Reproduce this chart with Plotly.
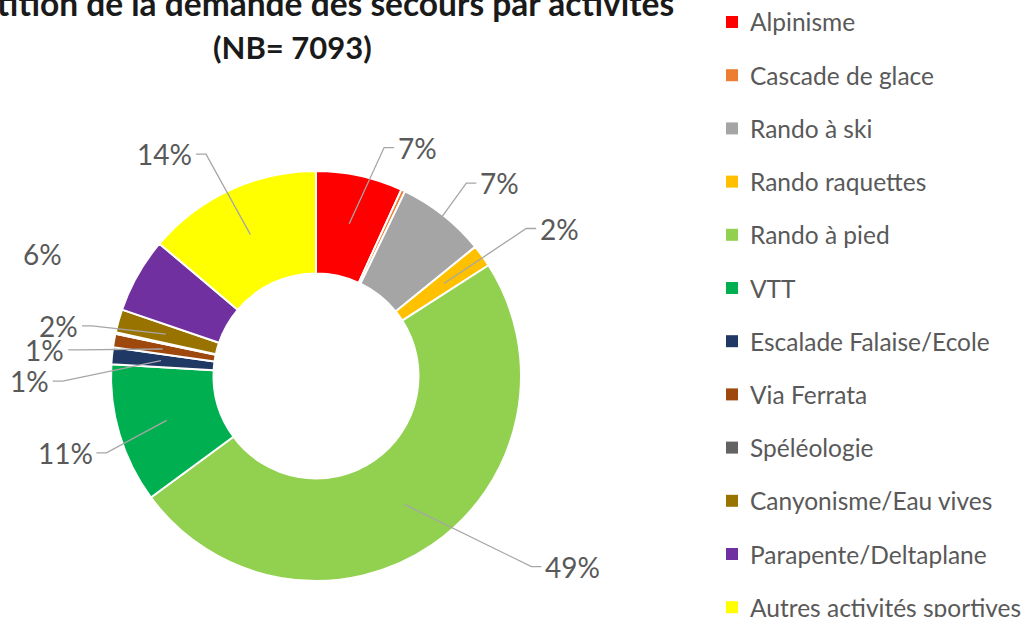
import math
import plotly.graph_objects as go

# ---------------- data ----------------
categories = [
    "Alpinisme", "Cascade de glace", "Rando à ski", "Rando raquettes",
    "Rando à pied", "VTT", "Escalade Falaise/Ecole", "Via Ferrata",
    "Spéléologie", "Canyonisme/Eau vives", "Parapente/Deltaplane",
    "Autres activités sportives",
]
counts = [485, 22, 497, 125, 3475, 780, 95, 75, 8, 130, 420, 981]
total_nb = 7093
title_line1 = "Répartition de la demande des secours par activités"
title_line2 = f"(NB= {total_nb})"

# ---------------- style ----------------
colors = ["#FF0000", "#ED7D31", "#A5A5A5", "#FFC000", "#92D050", "#00B050",
          "#203864", "#9E480E", "#636363", "#997300", "#7030A0", "#FFFF00"]

W, H = 1034, 617
CX, CY, R = 316, 376, 205
HOLE = 0.5
LABEL_FONT = 28
TEXT_COLOR = "#595959"
LINE_COLOR = "#A6A6A6"

# label placement: category -> (radius factor, angle offset deg, anchor radius factor, draw line)
placement = {
    "Alpinisme": (1.22, 11.7, 0.76, True),
    "Rando à ski": (1.30, 5.3, 0.99, True),
    "Rando raquettes": (1.39, 4.7, 0.77, True),
    "Rando à pied": (1.56, -18.9, 0.76, True),
    "VTT": (1.28, -0.5, 0.76, True),
    "Escalade Falaise/Ecole": (1.40, -6.7, 0.76, True),
    "Via Ferrata": (1.33, -4.5, 0.76, True),
    "Canyonisme/Eau vives": (1.28, -4.6, 0.76, True),
    "Parapente/Deltaplane": (1.46, -5.5, 0.76, False),
    "Autres activités sportives": (1.31, -9.4, 0.76, True),
}


def px(x):
    return x / W


def py(y):
    return 1 - y / H


def polar(r, ang):
    a = math.radians(ang)
    return CX + r * math.sin(a), CY - r * math.cos(a)


fig = go.Figure(go.Pie(
    labels=categories, values=counts, sort=False, direction="clockwise",
    rotation=0, hole=HOLE, textinfo="none", hoverinfo="label+percent+value",
    showlegend=False,
    marker=dict(colors=colors, line=dict(color="white", width=2)),
    domain=dict(x=[px(CX - R), px(CX + R)], y=[py(CY + R), py(CY - R)]),
))

annotations = []
shapes = []
tot = sum(counts)
cum = 0
for cat, v in zip(categories, counts):
    mid = (cum + v / 2) / tot * 360
    cum += v
    if cat not in placement:
        continue
    rf, dth, af, draw = placement[cat]
    txt = f"{round(100 * v / tot)}%"
    lx, ly = polar(rf * R, mid + dth)
    annotations.append(dict(
        x=px(lx), y=py(ly), xref="paper", yref="paper", text=txt,
        showarrow=False, xanchor="center", yanchor="middle",
        font=dict(family="Lato", size=LABEL_FONT, color=TEXT_COLOR),
    ))
    if draw:
        ax_, ay_ = polar(af * R, mid)
        half_w = (0.55 * (len(txt) - 1) + 0.78) * LABEL_FONT / 2
        if lx < ax_:
            end_x = lx + half_w + 5
            elb_x = end_x + 10
        else:
            end_x = lx - half_w - 5
            elb_x = end_x - 10
        path = (f"M {px(ax_)},{py(ay_)} L {px(elb_x)},{py(ly)} "
                f"L {px(end_x)},{py(ly)}")
        shapes.append(dict(type="path", path=path, xref="paper", yref="paper",
                           line=dict(color=LINE_COLOR, width=1.3)))

# custom legend
LEG_X, LEG_Y0, LEG_DY, SQ = 726, 22, 53.2, 12
for i, (cat, col) in enumerate(zip(categories, colors)):
    yc = LEG_Y0 + i * LEG_DY
    shapes.append(dict(type="rect", xref="paper", yref="paper",
                       x0=px(LEG_X), x1=px(LEG_X + SQ),
                       y0=py(yc + SQ / 2), y1=py(yc - SQ / 2),
                       fillcolor=col, line=dict(width=0)))
    annotations.append(dict(
        x=px(LEG_X + SQ + 10), y=py(yc), xref="paper", yref="paper",
        text=cat, showarrow=False, xanchor="left", yanchor="middle",
        font=dict(family="Lato", size=24.5, color=TEXT_COLOR),
    ))

# title (partly cut off, as in the reference)
annotations.append(dict(x=px(292), y=py(3), xref="paper", yref="paper",
                        text=f"<b>{title_line1}</b>", showarrow=False,
                        xanchor="center", yanchor="middle",
                        font=dict(family="Lato", size=33.5, color="#1A1A1A")))
annotations.append(dict(x=px(292), y=py(47), xref="paper", yref="paper",
                        text=f"<b>{title_line2}</b>", showarrow=False,
                        xanchor="center", yanchor="middle",
                        font=dict(family="Lato", size=31, color="#1A1A1A")))

fig.update_layout(
    width=W, height=H, margin=dict(l=0, r=0, t=0, b=0),
    paper_bgcolor="white", plot_bgcolor="white",
    annotations=annotations, shapes=shapes,
)

fig.write_html(
    "out.html",
    config={"displayModeBar": False},
    post_script="document.body.style.margin='0';document.body.style.overflow='hidden';",
)
